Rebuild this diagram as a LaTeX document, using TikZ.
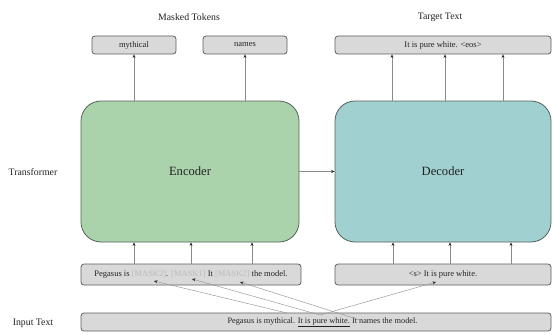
\documentclass[tikz,border=0pt]{standalone}
\usepackage{fontspec}
\setmainfont{Liberation Serif}
\usetikzlibrary{arrows.meta,calc}

\definecolor{boxgray}{HTML}{D9D9D9}
\definecolor{boxedge}{HTML}{5E5E5E}
\definecolor{encfill}{HTML}{AAD3AC}
\definecolor{decfill}{HTML}{A0D0D0}
\definecolor{blockedge}{HTML}{56635A}
\definecolor{linegray}{HTML}{8A8A8A}
\definecolor{linklight}{HTML}{9A9A9A}
\definecolor{maskgray}{HTML}{BBBBBB}
\definecolor{txt}{HTML}{222222}

\newcommand{\masktok}[1]{\textcolor{maskgray}{[MASK#1]}}

\tikzset{
  tokbox/.style={draw=boxedge, fill=boxgray, line width=0.8pt, rounded corners=3pt,
    inner sep=0pt, minimum height=18pt, text=txt, font=\fontsize{8.5}{10}\selectfont},
  block/.style={draw=blockedge, line width=0.8pt, rounded corners=20pt, inner sep=0pt,
    minimum width=218pt, minimum height=141pt, text=txt, font=\fontsize{12.6}{15}\selectfont},
  label/.style={text=txt, font=\fontsize{9.8}{12}\selectfont, inner sep=0pt},
  arr/.style={draw=linegray, line width=0.6pt,
    -{Stealth[length=3.5pt,width=3pt,color=black!85]}},
  link/.style={arr, draw=linklight, line width=0.5pt},
}

\begin{document}
\begin{tikzpicture}[x=1pt,y=-1pt]
\useasboundingbox (0,0) rectangle (553,334);

% side and column labels
\node[label] (tmask) at (189,17) {Masked Tokens};
\node[label] (ttarget) at (440,17) {Target Text};
\node[label] (ltrans) at (33,172) {Transformer};
\node[label] (linput) at (33,323) {Input Text};

% output boxes
\node[tokbox, minimum width=84pt] (myth) at (134,45) {mythical};
\node[tokbox, minimum width=84pt] (names) at (245,45) {names};
\node[tokbox, minimum width=216pt] (tgt) at (443,45) {It is pure white. <eos>};

% encoder and decoder
\node[block, fill=encfill] (enc) at (190,171.5) {Encoder};
\node[block, fill=decfill, minimum width=216pt] (dec) at (443,171.5) {Decoder};

% input boxes
\node[tokbox, minimum width=220pt, minimum height=21pt] (mask) at (191,274.5)
  {Pegasus is \masktok{2}. \masktok{1} It \masktok{2} the model.};
\node[tokbox, minimum width=216pt, minimum height=21pt] (decin) at (443,274.5)
  {<s> It is pure white.};
\node[tokbox, minimum width=470pt, font=\fontsize{8.3}{10}\selectfont] (inp) at (316,322)
  {\hspace*{13pt}Pegasus is mythical. \underline{It is pure white.} It names the model.};

% encoder outputs
\draw[arr] (enc.north -| myth) -- (myth.south);
\draw[arr] (enc.north -| names) -- (names.south);

% decoder outputs
\foreach \dx in {-51,2,60}
  \draw[arr] ([xshift=\dx pt]dec.north) -- ([xshift=\dx pt]dec.north |- tgt.south);

% encoder inputs
\foreach \dx in {-57,0,61}
  \draw[arr] ([xshift=\dx pt]mask.north) -- ([xshift=\dx pt]mask.north |- enc.south);

% decoder inputs
\foreach \dx in {-50,7,68}
  \draw[arr] ([xshift=\dx pt]decin.north) -- ([xshift=\dx pt]decin.north |- dec.south);

% encoder to decoder
\draw[arr] (enc.east) -- (dec.west);

% masking links from the input text
\coordinate (wmyth) at (287,313);
\coordinate (wsent) at (320,315);
\coordinate (wnames) at (363,321);
\coordinate (m1) at (154,281);
\coordinate (m2) at (192,279);
\coordinate (m3) at (240,282);
\coordinate (d1) at (436,282);
\draw[link] (wmyth) -- (m1);
\draw[link] (wsent) -- (m2);
\draw[link] (wnames) -- (m3);
\draw[link] (wsent) -- (d1);
\end{tikzpicture}
\end{document}
